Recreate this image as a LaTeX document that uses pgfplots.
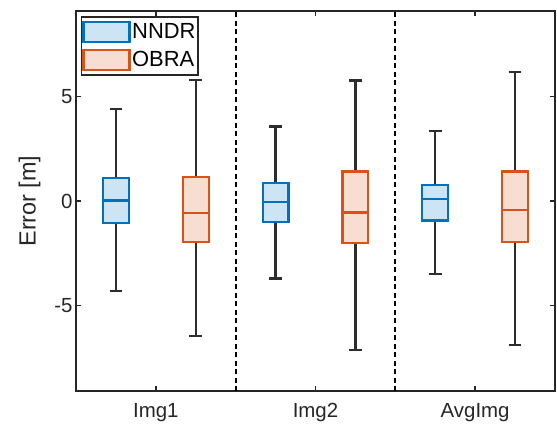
\documentclass[border=0pt]{standalone}
\usepackage{pgfplots}
\pgfplotsset{compat=1.18}
\usepgfplotslibrary{statistics}
\usepackage{fontspec}
\setmainfont{Liberation Sans}

\definecolor{nndr}{RGB}{0,114,189}
\definecolor{nndrfill}{RGB}{205,228,244}
\definecolor{obra}{RGB}{217,83,25}
\definecolor{obrafill}{RGB}{248,222,210}
\definecolor{whisk}{RGB}{45,45,45}
\definecolor{axgray}{RGB}{38,38,38}

\pgfplotsset{
  nbox/.style={draw=nndr, fill=nndrfill, line width=2.2pt,
    boxplot/every whisker/.style={draw=whisk, line width=2.2pt},
    boxplot/every median/.style={draw=nndr, line width=2.2pt}},
  obox/.style={draw=obra, fill=obrafill, line width=2.2pt,
    boxplot/every whisker/.style={draw=whisk, line width=2.2pt},
    boxplot/every median/.style={draw=obra, line width=2.2pt}},
}

\begin{document}
\begin{tikzpicture}
\begin{axis}[
  scale only axis, width=479bp, height=380bp,
  xmin=0.5, xmax=3.5, ymin=-9.1, ymax=9.1,
  xtick={1,2,3}, xticklabels={Img1,Img2,AvgImg},
  ytick={-5,0,5},
  tick align=inside, tick pos=both, major tick length=5bp,
  axis line style={axgray, line width=1.7pt},
  every tick/.style={axgray, line width=1.5pt},
  tick label style={font=\fontsize{20.5}{24}\selectfont, text=axgray},
  xticklabel style={yshift=-9bp},
  /pgf/number format/assume math mode=true,
  ylabel={Error [m]},
  ylabel style={font=\fontsize{23.5}{28}\selectfont, text=axgray,
    at={(axis description cs:-0.097,0.5)}, anchor=center},
  boxplot/draw direction=y,
  boxplot/box extend=0.162, boxplot/whisker extend=0.08,
  legend style={at={(axis description cs:0.0098,0.987)}, anchor=north west,
    draw=axgray, line width=1.6pt, font=\fontsize{22}{26}\selectfont,
    inner xsep=1bp, inner ysep=4bp, row sep=6bp,
    nodes={inner xsep=1.5bp, inner ysep=1bp}},
  legend cell align=left,
  legend image code/.code={\draw[#1, line width=2.2pt] (0bp,-10bp) rectangle (46bp,10bp);},
  clip=false,
]
% category separators
\addplot[forget plot, black, line width=1.9pt, dash pattern=on 5bp off 3.5bp] coordinates {(1.5,-9.1) (1.5,9.1)};
\addplot[forget plot, black, line width=1.9pt, dash pattern=on 5bp off 3.5bp] coordinates {(2.5,-9.1) (2.5,9.1)};

% Img1
\addplot[forget plot, nbox, boxplot prepared={draw position=0.75,
  lower whisker=-4.30, lower quartile=-1.06, median=0.02,
  upper quartile=1.12, upper whisker=4.40}] coordinates {};
\addplot[forget plot, obox, boxplot prepared={draw position=1.25,
  lower whisker=-6.45, lower quartile=-1.97, median=-0.58,
  upper quartile=1.14, upper whisker=5.78}] coordinates {};
% Img2
\addplot[forget plot, nbox, boxplot prepared={draw position=1.75,
  lower whisker=-3.71, lower quartile=-1.01, median=-0.05,
  upper quartile=0.86, upper whisker=3.57}] coordinates {};
\addplot[forget plot, obox, boxplot prepared={draw position=2.25,
  lower whisker=-7.12, lower quartile=-2.02, median=-0.55,
  upper quartile=1.41, upper whisker=5.77}] coordinates {};
% AvgImg
\addplot[forget plot, nbox, boxplot prepared={draw position=2.75,
  lower whisker=-3.50, lower quartile=-0.93, median=0.09,
  upper quartile=0.78, upper whisker=3.37}] coordinates {};
\addplot[forget plot, obox, boxplot prepared={draw position=3.25,
  lower whisker=-6.88, lower quartile=-1.98, median=-0.42,
  upper quartile=1.41, upper whisker=6.17}] coordinates {};

\addlegendimage{draw=nndr, fill=nndrfill}
\addlegendentry{NNDR}
\addlegendimage{draw=obra, fill=obrafill}
\addlegendentry{OBRA}

\coordinate (sw) at (rel axis cs:0,0);
\coordinate (ne) at (rel axis cs:1,1);
\end{axis}
\pgfresetboundingbox
\path[use as bounding box] ([shift={(-76bp,-40bp)}]sw) rectangle ([shift={(2bp,11bp)}]ne);
\end{tikzpicture}
\end{document}
